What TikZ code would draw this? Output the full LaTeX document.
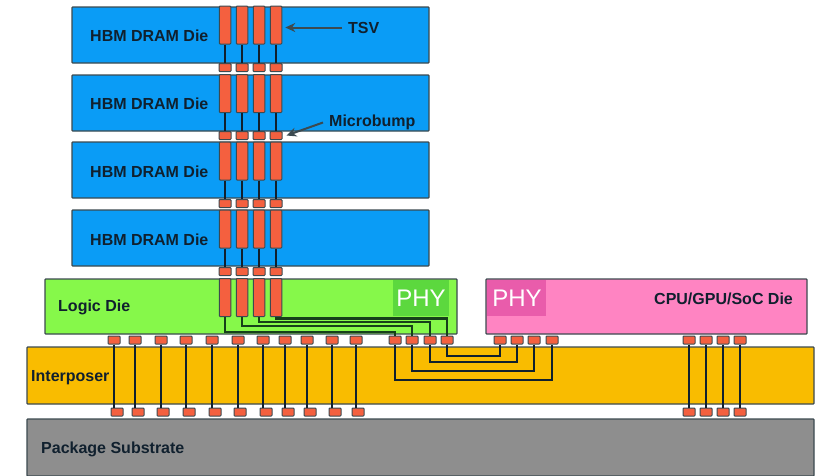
\documentclass[tikz,border=0pt]{standalone}
\usepackage{fontspec}
\setmainfont{Liberation Sans}
\usetikzlibrary{arrows.meta,calc}
\definecolor{dieblue}{HTML}{0A9CF6}
\definecolor{logicgreen}{HTML}{86F84A}
\definecolor{phygreen}{HTML}{5CD83E}
\definecolor{socpink}{HTML}{FF84C2}
\definecolor{phypink}{HTML}{E95CAB}
\definecolor{interp}{HTML}{F9BC00}
\definecolor{subst}{HTML}{8E8E8E}
\definecolor{copper}{HTML}{F4603F}
\definecolor{edge}{HTML}{3C4A50}
\definecolor{ink}{HTML}{10202E}
\definecolor{darkgreenwire}{HTML}{16401A}
\tikzset{
  x=1pt,y=-1pt,
  layer/.style={draw=edge,line width=1.2pt,rounded corners=0.8pt},
  tsvbar/.style={draw=edge,fill=copper,line width=1pt,minimum width=11.5pt,minimum height=38pt,inner sep=0pt,rounded corners=0.8pt},
  bump/.style={draw=edge,fill=copper,line width=1pt,minimum width=12pt,minimum height=8pt,inner sep=0pt,rounded corners=0.8pt},
  wire/.style={draw=ink,line width=2.5pt},
  greenwire/.style={draw=darkgreenwire,line width=2.5pt},
  lbl/.style={font=\bfseries\fontsize{16}{18}\selectfont,text=ink,inner sep=0pt,anchor=west},
  phylbl/.style={font=\fontsize{24}{26}\selectfont,text=white,inner sep=0pt},
  note/.style={draw=edge,line width=2pt,-{Stealth[length=10pt,width=9pt]}},
}
\begin{document}
\begin{tikzpicture}
\useasboundingbox (0,0) rectangle (818,475);
% layers
\foreach \n/\t/\b in {1/7/63,2/75/131,3/142/198,4/210/266}{
  \draw[layer,fill=dieblue] (72,\t) rectangle (429,\b);
}
\draw[layer,fill=logicgreen] (45,279) rectangle (457,334);
\fill[phygreen] (393,280) rectangle (449,316);
\draw[layer,fill=socpink] (486,279) rectangle (807,334);
\fill[phypink] (487,280) rectangle (546,316);
\draw[layer,fill=interp] (27,347) rectangle (814,404);
\draw[layer,fill=subst] (27,419) rectangle (814,476);

% TSV stacks: wires first, then bars and bumps on top
\foreach \c/\x in {a/225,b/242,c/259,d/276}{
  \foreach \r/\yt/\yb in {1/25/67.5,2/93.5/135.5,3/161/203.5,4/229/271.5}{
    \node[tsvbar] (t\c\r) at (\x,\yt) {};
    \node[bump] (u\c\r) at (\x,\yb) {};
    \draw[wire] (t\c\r.south) -- (u\c\r.north);
  }
  \node[tsvbar] (t\c5) at (\x,297.5) {};
}

% package bumps and through wires
\foreach \i/\xa/\xb in {1/114/117,2/135/138,3/161/163,4/186/189,5/212/215,6/238/240,7/263/266,8/285/288,9/307/310,10/332/335,11/356/358,12/689/689,13/706/706,14/723/723,15/740/740}{
  \node[bump] (p\i) at (\xa,340) {};
  \node[bump] (q\i) at (\xb,412) {};
}
\foreach \i in {1,...,15}{
  \draw[wire] (p\i.south) -- (p\i.south |- q\i.north);
}

% PHY bumps
\foreach \i/\x in {1/395,2/412,3/430,4/447}{ \node[bump] (g\i) at (\x,340) {}; }
\foreach \i/\x in {1/500,2/517,3/534,4/552}{ \node[bump] (h\i) at (\x,340) {}; }

% logic die routing
\coordinate (ra) at (0,332);
\coordinate (rb) at (0,326);
\coordinate (rc) at (0,322);
\coordinate (rd) at (0,318.5);
\draw[greenwire] (ta5.south) -- (ta5.south |- ra) -| (g1.north);
\draw[greenwire] (tb5.south) -- (tb5.south |- rb) -| (g2.north);
\draw[greenwire] (tc5.south) -- (tc5.south |- rc) -| (g3.north);
\draw[greenwire] (td5.south) -- (td5.south |- rd) -| (g4.north);

% interposer routing
\coordinate (sa) at (0,380);
\coordinate (sb) at (0,371);
\coordinate (sc) at (0,362);
\coordinate (sd) at (0,356);
\draw[wire] (g1.south) -- (g1.south |- sa) -| (h4.south);
\draw[wire] (g2.south) -- (g2.south |- sb) -| (h3.south);
\draw[wire] (g3.south) -- (g3.south |- sc) -| (h2.south);
\draw[wire] (g4.south) -- (g4.south |- sd) -| (h1.south);

% labels
\foreach \n/\y in {1/35.5,2/103.5,3/171.5,4/239.5}{
  \node[lbl] (dram\n) at (90,\y) {HBM DRAM Die};
}
\node[lbl] (logic) at (58,307.5) {Logic Die};
\node[phylbl] (phya) at (421,298) {PHY};
\node[phylbl] (phyb) at (517,298) {PHY};
\node[lbl] (soc) at (654,298.5) {CPU/GPU/SoC Die};
\node[lbl] (intlab) at (31,377.5) {Interposer};
\node[lbl] (sublab) at (41,449.5) {Package Substrate};
\node[lbl] (tsvlab) at (348,27.5) {TSV};
\node[lbl] (mblab) at (329,122.5) {Microbump};
\coordinate (tsvtip) at ($(td1.east |- tsvlab.west)+(3,0)$);
\draw[note] ($(tsvlab.west)+(-6,0)$) -- (tsvtip);
\draw[note] ($(mblab.west)+(-6,0)$) -- ($(ud2.east)+(4,0)$);
\end{tikzpicture}
\end{document}
